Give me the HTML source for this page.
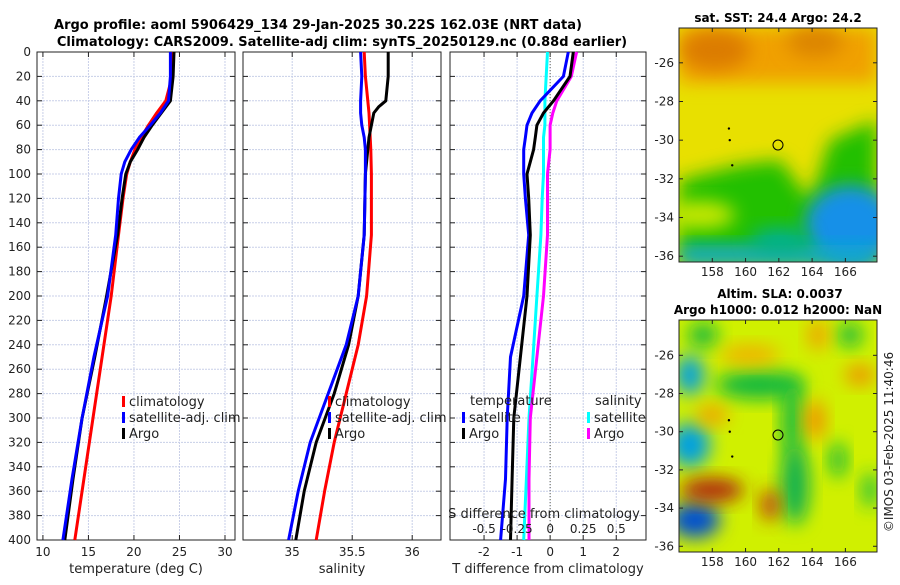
<!DOCTYPE html>
<html><head><meta charset="utf-8"><style>
body{margin:0;background:#fff;font-family:"Liberation Sans","DejaVu Sans",sans-serif}
svg text{font-family:"DejaVu Sans","Liberation Sans",sans-serif}
</style></head><body>
<svg id="c" width="900" height="580" xmlns="http://www.w3.org/2000/svg">
<defs>
<filter id="bl" x="-50%" y="-50%" width="200%" height="200%"><feGaussianBlur stdDeviation="9"/></filter>
<clipPath id="m1"><rect x="679" y="28" width="198" height="234"/></clipPath>
<clipPath id="m2"><rect x="679" y="320" width="198" height="232"/></clipPath>
</defs>
<text x="318" y="29" font-size="13" font-weight="bold" text-anchor="middle">Argo profile: aoml 5906429_134 29-Jan-2025 30.22S 162.03E (NRT data)</text>
<text x="342" y="46" font-size="13" font-weight="bold" text-anchor="middle">Climatology: CARS2009. Satellite-adj clim: synTS_20250129.nc (0.88d earlier)</text>
<g id="maps">
<g clip-path="url(#m1)">
<rect x="679" y="28" width="198" height="234" fill="#e8e000"/>
<rect x="679" y="28" width="198" height="55" fill="#f0a000" filter="url(#bl)"/>
<ellipse cx="715" cy="50" rx="35" ry="20" fill="#dc7c00" filter="url(#bl)"/>
<ellipse cx="815" cy="42" rx="28" ry="15" fill="#dc8400" filter="url(#bl)"/>
<path d="M679 180 L740 165 L780 160 L810 200 L830 140 L877 120 L877 262 L679 262Z" fill="#20c000" filter="url(#bl)"/>
<ellipse cx="700" cy="215" rx="35" ry="14" fill="#c8e800" filter="url(#bl)"/>
<ellipse cx="850" cy="225" rx="45" ry="40" fill="#1890e8" filter="url(#bl)"/>
<rect x="679" y="245" width="198" height="20" fill="#10a8d0" filter="url(#bl)"/>
<ellipse cx="780" cy="240" rx="30" ry="12" fill="#00b090" filter="url(#bl)"/>
<circle cx="778" cy="145" r="5" fill="none" stroke="#000"/>
</g>
<g clip-path="url(#m2)">
<rect x="679" y="320" width="198" height="232" fill="#d0f000"/>
<ellipse cx="760" cy="385" rx="45" ry="14" fill="#10b840" filter="url(#bl)"/>
<ellipse cx="792" cy="420" rx="10" ry="40" fill="#10b840" filter="url(#bl)"/>
<ellipse cx="795" cy="485" rx="14" ry="40" fill="#10b050" filter="url(#bl)"/>
<ellipse cx="703" cy="335" rx="15" ry="12" fill="#10b840" filter="url(#bl)"/>
<ellipse cx="850" cy="335" rx="12" ry="12" fill="#10b840" filter="url(#bl)"/>
<ellipse cx="838" cy="460" rx="8" ry="18" fill="#10b840" filter="url(#bl)"/>
<ellipse cx="870" cy="490" rx="8" ry="18" fill="#20c040" filter="url(#bl)"/>
<ellipse cx="690" cy="445" rx="20" ry="22" fill="#00a0e0" filter="url(#bl)"/>
<ellipse cx="690" cy="375" rx="14" ry="20" fill="#00a0e0" filter="url(#bl)"/>
<ellipse cx="695" cy="520" rx="25" ry="18" fill="#0050d0" filter="url(#bl)"/>
<ellipse cx="712" cy="490" rx="32" ry="12" fill="#b02810" filter="url(#bl)"/>
<ellipse cx="770" cy="505" rx="9" ry="16" fill="#c03810" filter="url(#bl)"/>
<ellipse cx="750" cy="355" rx="30" ry="10" fill="#f0b000" filter="url(#bl)"/>
<ellipse cx="815" cy="420" rx="10" ry="20" fill="#f09000" filter="url(#bl)"/>
<ellipse cx="860" cy="375" rx="15" ry="10" fill="#f09000" filter="url(#bl)"/>
<ellipse cx="712" cy="415" rx="16" ry="10" fill="#f0a000" filter="url(#bl)"/>
<ellipse cx="818" cy="335" rx="10" ry="15" fill="#f0a000" filter="url(#bl)"/>
<circle cx="778" cy="435" r="5" fill="none" stroke="#000"/>
</g>
</g>
<text x="778" y="22" font-size="12" font-weight="bold" text-anchor="middle">sat. SST: 24.4 Argo: 24.2</text>
<text x="780" y="298" font-size="12" font-weight="bold" text-anchor="middle">Altim. SLA: 0.0037</text>
<text x="778" y="314" font-size="12" font-weight="bold" text-anchor="middle">Argo h1000: 0.012 h2000: NaN</text>
<text transform="translate(893,442) rotate(-90)" font-size="12" text-anchor="middle" fill="#222">©IMOS 03-Feb-2025 11:40:46</text>
</svg>
<script>
const depths=[0,20,40,50,60,70,80,90,100,120,150,200,250,300,350,400];
const tClim=[24.2,24.2,23.5,22.5,21.6,20.8,20.1,19.6,19.2,18.8,18.3,17.5,16.5,15.5,14.5,13.5];
const tSat=[24.0,24.0,23.8,22.9,21.8,20.6,19.7,19.0,18.6,18.3,18.0,17.1,15.6,14.3,13.2,12.2];
const tArgo=[24.4,24.3,24.0,23.0,22.0,21.1,20.4,19.6,19.1,18.7,18.2,17.0,15.7,14.3,13.3,12.4];
const sDepths=[0,20,40,45,50,60,70,80,100,150,200,240,280,320,360,400];
const sClim=[35.6,35.61,35.63,35.635,35.64,35.645,35.65,35.655,35.66,35.66,35.62,35.55,35.45,35.35,35.27,35.2];
const sSat=[35.57,35.58,35.57,35.57,35.57,35.58,35.6,35.61,35.61,35.6,35.55,35.45,35.3,35.15,35.05,34.97];
const sArgo=[35.8,35.8,35.78,35.72,35.68,35.66,35.64,35.63,35.61,35.6,35.55,35.47,35.35,35.2,35.1,35.03];
const dTSat=[0.55,0.4,-0.3,-0.55,-0.7,-0.75,-0.8,-0.8,-0.8,-0.75,-0.65,-0.8,-1.2,-1.3,-1.35,-1.5];
const dTArgo=[0.7,0.6,0.1,-0.2,-0.4,-0.45,-0.5,-0.6,-0.7,-0.65,-0.6,-0.7,-0.9,-1.1,-1.15,-1.2];
const dSSat=[-0.02,-0.03,-0.04,-0.04,-0.04,-0.05,-0.05,-0.05,-0.05,-0.06,-0.07,-0.1,-0.13,-0.16,-0.18,-0.2];
const dSArgo=[0.2,0.16,0.05,0.02,0.0,0.0,0.0,-0.01,-0.02,-0.02,-0.02,-0.05,-0.1,-0.15,-0.16,-0.16];
const yTicks=[0,20,40,60,80,100,120,140,160,180,200,220,240,260,280,300,320,340,360,380,400];
const tTicks=[10,15,20,25,30], sTicks=[35,35.5,36], dTicks=[-2,-1,0,1,2], dSTicks=[-0.5,-0.25,0,0.25,0.5];
const lonTicks=[158,160,162,164,166], latTicks=[-26,-28,-30,-32,-34,-36];
const NS='http://www.w3.org/2000/svg', svg=document.getElementById('c');
function el(t,a,p){const e=document.createElementNS(NS,t);for(const k in a)e.setAttribute(k,a[k]);(p||svg).appendChild(e);return e;}
const Y0=52,Y1=540;
const yS=d=>Y0+d/400*(Y1-Y0);
function lin(d0,d1,r0,r1){return v=>r0+(v-d0)/(d1-d0)*(r1-r0);}
const panels=[
 {x0:37,x1:235,f:lin(9.35,31.1,37,235),ticks:tTicks,lab:'temperature (deg C)',n:'temperature'},
 {x0:243,x1:441,f:lin(34.59,36.24,243,441),ticks:sTicks,lab:'salinity',n:'salinity'},
 {x0:450,x1:646,f:lin(-3.03,2.9,450,646),ticks:dTicks,lab:'T difference from climatology',n:'difference'}];
panels.forEach((p,i)=>{
 const g=el('g',{});
 
 
 const ticksX=p.ticks.map(p.f);
 ticksX.forEach(x=>{el('line',{x1:x,x2:x,y1:Y0,y2:Y1,stroke:'#c8cfe8','stroke-dasharray':'2 1','stroke-width':1},g);});
 yTicks.forEach(d=>{el('line',{x1:p.x0,x2:p.x1,y1:yS(d),y2:yS(d),stroke:'#c8cfe8','stroke-dasharray':'2 1'},g);
  el('line',{x1:p.x0,x2:p.x0+5,y1:yS(d),y2:yS(d),stroke:'#222'},g);el('line',{x1:p.x1,x2:p.x1-5,y1:yS(d),y2:yS(d),stroke:'#222'},g);
  if(i==0){const t=el('text',{x:31,y:yS(d)+4,'font-size':12,'text-anchor':'end',fill:'#222'},g);t.textContent=d;}});
 p.ticks.forEach(v=>{const x=p.f(v);el('line',{x1:x,x2:x,y1:Y1,y2:Y1-5,stroke:'#222'},g);el('line',{x1:x,x2:x,y1:Y0,y2:Y0+5,stroke:'#222'},g);
  const t=el('text',{x:x,y:556,'font-size':12,'text-anchor':'middle',fill:'#222'},g);t.textContent=v;});
 el('rect',{x:p.x0,y:Y0,width:p.x1-p.x0,height:Y1-Y0,fill:'none',stroke:'#222'},g);
 const t=el('text',{x:(p.x0+p.x1)/2,y:573,'font-size':13,'text-anchor':'middle',fill:'#222'},g);t.textContent=p.lab;
 
 
});
function line(xs,ds,f,col,name,w){const d=xs.map((v,k)=>(k?'L':'M')+f(v).toFixed(1)+' '+yS(ds[k]).toFixed(1)).join(' ');
 const e=el('path',{d:d,fill:'none',stroke:col,'stroke-width':w||3,'stroke-linejoin':'round'});
 
 }
const P=panels;
line(tClim,depths,P[0].f,'#f00','temp-climatology-line');
line(tArgo,depths,P[0].f,'#000','temp-argo-line');
line(tSat,depths,P[0].f,'#00f','temp-satellite-line');
line(sClim,sDepths,P[1].f,'#f00','sal-climatology-line');
line(sArgo,sDepths,P[1].f,'#000','sal-argo-line');
line(sSat,sDepths,P[1].f,'#00f','sal-satellite-line');
const sf=v=>P[2].f(v*4);
el('line',{x1:P[2].f(0),x2:P[2].f(0),y1:Y0,y2:Y1,stroke:'#665','stroke-dasharray':'1 2'});
line(dSSat,depths,sf,'#0ff','sdiff-satellite-line');
line(dSArgo,depths,sf,'#f0f','sdiff-argo-line');
line(dTSat,depths,P[2].f,'#00f','tdiff-satellite-line');
line(dTArgo,depths,P[2].f,'#000','tdiff-argo-line');
dSTicks.forEach(v=>{const t=el('text',{x:sf(v),y:533,'font-size':12,'text-anchor':'middle',fill:'#222'});t.textContent=v;});
{const t=el('text',{x:544,y:518,'font-size':13,'text-anchor':'middle',fill:'#222'});t.textContent='S difference from climatology';
 }
function leg(x,y,col,txt,name){el('rect',{x:x,y:y-9,width:3,height:11,fill:col});const t=el('text',{x:x+7,y:y+1,'font-size':13,fill:'#222'});t.textContent=txt;
 }
leg(122,405,'#f00','climatology','legend-climatology');leg(122,421,'#00f','satellite-adj. clim','legend-satellite');leg(122,437,'#000','Argo','legend-argo');
leg(328,405,'#f00','climatology','legend2-climatology');leg(328,421,'#00f','satellite-adj. clim','legend2-satellite');leg(328,437,'#000','Argo','legend2-argo');
{const t=el('text',{x:470,y:405,'font-size':13,fill:'#222'});t.textContent='temperature';}
leg(462,421,'#00f','satellite','legend-tdiff-satellite');leg(462,437,'#000','Argo','legend-tdiff-argo');
{const t=el('text',{x:595,y:405,'font-size':13,fill:'#222'});t.textContent='salinity';}
leg(587,421,'#0ff','satellite','legend-sdiff-satellite');leg(587,437,'#f0f','Argo','legend-sdiff-argo');
const lonX=lin(156,167.9,679,877);
[[28,262,lin(-24.2,-36.3,28,262)],[320,552,lin(-24.15,-36.3,320,552)]].forEach(([y0,y1,ly],j)=>{
 el('rect',{x:679,y:y0,width:198,height:y1-y0,fill:'none',stroke:'#222'});
 lonTicks.forEach(v=>{const x=lonX(v);el('line',{x1:x,x2:x,y1:y1,y2:y1-4,stroke:'#222'});el('line',{x1:x,x2:x,y1:y0,y2:y0+4,stroke:'#222'});
  const t=el('text',{x:x,y:y1+14,'font-size':12,'text-anchor':'middle',fill:'#222'});t.textContent=v;});
 latTicks.forEach(v=>{const y=ly(v);el('line',{x1:679,x2:683,y1:y,y2:y,stroke:'#222'});el('line',{x1:877,x2:873,y1:y,y2:y,stroke:'#222'});
  const t=el('text',{x:674,y:y+4,'font-size':12,'text-anchor':'end',fill:'#222'});t.textContent=v;});
 [[159,-29.4],[159.05,-30.0],[159.2,-31.3]].forEach(([lo,la])=>el('circle',{cx:lonX(lo),cy:ly(la),r:1.2,fill:'#000'}));
});
</script>
</body></html>
